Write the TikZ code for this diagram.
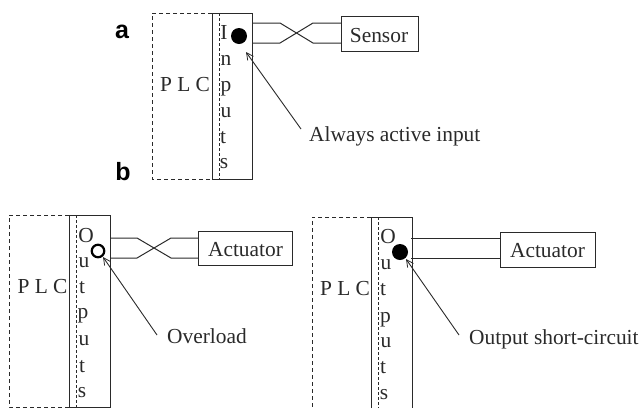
\documentclass[tikz,border=0pt]{standalone}
\usepackage{fontspec}
\setmainfont{Liberation Serif}
\newfontfamily\panelfont{Liberation Sans}
\usetikzlibrary{arrows.meta}
\definecolor{ink}{HTML}{2A2A2A}
\tikzset{
  x=1pt,y=-1pt,
  lab/.style={inner sep=0pt,text=ink,font=\fontsize{21.4}{24}\selectfont},
  lett/.style={lab,anchor=base},
  side/.style={lab,anchor=base west},
  panel/.style={inner sep=0pt,anchor=base,font=\panelfont\bfseries\fontsize{25}{28}\selectfont},
  box/.style={draw=ink,line width=1.1pt,inner sep=0pt,anchor=north west},
  dbox/.style={draw=ink,line width=1pt,dash pattern=on 4pt off 3pt},
  dv/.style={draw=ink,line width=1pt,dash pattern=on 3pt off 2pt},
  wire/.style={draw=ink,line width=1pt},
  arr/.style={draw=ink,line width=0.9pt,-{Straight Barb[length=7pt,width=7pt,line width=0.8pt]}},
  dot/.style={circle,fill=black,inner sep=0pt,minimum size=16pt},
  ring/.style={circle,draw=black,line width=2.2pt,inner sep=0pt,minimum size=12.5pt},
}
\begin{document}
\begin{tikzpicture}
\useasboundingbox (0,0) rectangle (640,408);
% panel labels
\node[panel] (pa) at (122,38) {a};
\node[panel] (pb) at (123,180) {b};
% --- a
\draw[dbox] (212,13) -- (152,13) -- (152,179) -- (212,179);
\node[box,minimum width=40pt,minimum height=166pt] (ia) at (212,13) {};
\draw[dv] (219,13) -- (219,179);
\node[lett] (plca) at (185,91) {P L C};
\node[lett] at (224,39) {I};
\node[lett] at (226,65) {n};
\node[lett] at (226,91) {p};
\node[lett] at (226,117) {u};
\node[lett] at (223,143) {t};
\node[lett] at (224,168) {s};
\node[dot] (da) at (239,36) {};
\node[box,minimum width=77pt,minimum height=35pt] (sa) at (341,16) {};
\node[lett] at (379,42) {Sensor};
\coordinate (a1) at (252,23); \coordinate (a2) at (252,43);
\coordinate (a3) at (341,23); \coordinate (a4) at (341,43);
\draw[wire] (a1) -- (280,23) -- (313,43) -- (a4);
\draw[wire] (a2) -- (280,43) -- (313,23) -- (a3);
\coordinate (at) at (301,129);
\coordinate (ah) at (246,52);
\draw[arr] (at) -- (ah);
\node[side] (ta) at (309,141) {Always active input};
% --- b left
\draw[dbox] (69,215) -- (9,215) -- (9,407) -- (69,407);
\node[box,minimum width=41pt,minimum height=192pt] (ob) at (69,215) {};
\draw[dv] (76,215) -- (76,407);
\node[lett] (plcb) at (42.5,293) {P L C};
\node[lett] at (86,242) {O};
\node[lett] at (84,267) {u};
\node[lett] at (82,293) {t};
\node[lett] at (83,318) {p};
\node[lett] at (84,345) {u};
\node[lett] at (82,372) {t};
\node[lett] at (82,397) {s};
\node[ring] (rb) at (98,251) {};
\node[box,minimum width=94pt,minimum height=34pt] (ab) at (198,231) {};
\node[lett] at (245.5,256) {Actuator};
\coordinate (b1) at (110,238); \coordinate (b2) at (110,258);
\coordinate (b3) at (198,238); \coordinate (b4) at (198,258);
\draw[wire] (b1) -- (137,238) -- (171,258) -- (b4);
\draw[wire] (b2) -- (137,258) -- (171,238) -- (b3);
\coordinate (bt) at (157,335);
\coordinate (bh) at (103,257);
\draw[arr] (bt) -- (bh);
\node[side] (tb) at (167,343) {Overload};
% --- b right
\draw[dbox] (371,217) -- (312,217) -- (312,408);
\draw[draw=ink,line width=1.1pt] (371.5,408) -- (371.5,217.5) -- (412.5,217.5) -- (412.5,408);
\draw[dv] (378,217) -- (378,408);
\node[lett] (plcc) at (345,295) {P L C};
\node[lett] at (388,243) {O};
\node[lett] at (386,269) {u};
\node[lett] at (383,295) {t};
\node[lett] at (385.5,322) {p};
\node[lett] at (386,347) {u};
\node[lett] at (383,373) {t};
\node[lett] at (384,399) {s};
\node[dot] (dc) at (400,252) {};
\node[box,minimum width=95pt,minimum height=35pt] (ac) at (500,232) {};
\node[lett] at (547.5,257) {Actuator};
\coordinate (c1) at (411,238); \coordinate (c2) at (411,258);
\draw[wire] (c1) -- (c1 -| ac.west);
\draw[wire] (c2) -- (c2 -| ac.west);
\coordinate (ct) at (459,335);
\coordinate (ch) at (406,259);
\draw[arr] (ct) -- (ch);
\node[side] (tc) at (469,344) {Output short-circuit};
\end{tikzpicture}
\end{document}
